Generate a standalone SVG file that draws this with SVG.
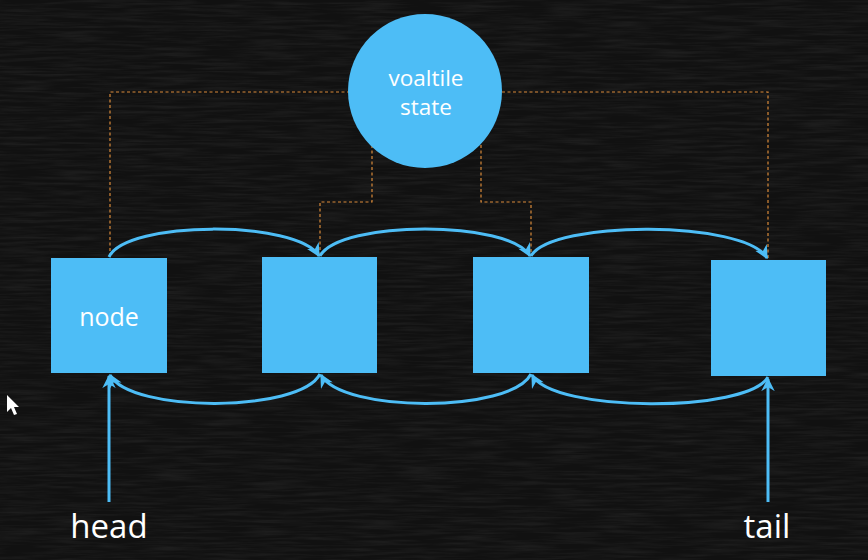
<svg xmlns="http://www.w3.org/2000/svg" width="868" height="560" viewBox="0 0 868 560">
<style>
.node{fill:#4dbdf6;}
.lbl{font-family:"Open Sans","Noto Sans",sans-serif;fill:#ffffff;text-anchor:middle;}
.arc{fill:none;stroke:#4dbdf6;stroke-width:3;}
.dash{fill:none;stroke:#d98a3a;stroke-width:1.2;stroke-dasharray:3 2.5;}
</style>
<defs>
<marker id="ah" viewBox="0 0 10 10" refX="9" refY="5" markerWidth="4.5" markerHeight="4.5" orient="auto" markerUnits="strokeWidth">
<path d="M0,0 L10,5 L0,10 L3,5 z" fill="#4dbdf6"/>
</marker>
<filter id="chalk" x="0" y="0" width="100%" height="100%">
<feTurbulence type="fractalNoise" baseFrequency="0.02 0.35" numOctaves="3" seed="4" result="n"/>
<feColorMatrix in="n" type="matrix" values="0 0 0 0 1  0 0 0 0 1  0 0 0 0 1  0 0 0 0.5 -0.18" result="c"/>
<feComposite in="c" in2="SourceGraphic" operator="in"/>
</filter>
</defs>
<rect x="0" y="0" width="868" height="560" fill="#111111"/>
<rect x="0" y="0" width="868" height="560" fill="#111111" filter="url(#chalk)" opacity="0.22"/>

<g id="connectors">
<path class="dash" d="M350,92 H110 V256"/>
<path class="dash" d="M372,145 V202 H320 V255"/>
<path class="dash" d="M481,145 V202 H531 V255"/>
<path class="dash" d="M502,92 H768 V258"/>
<path class="arc" d="M109,257 C126,220 298,220 319,256" marker-end="url(#ah)"/>
<path class="arc" d="M320,256 C340,220 510,220 530,256" marker-end="url(#ah)"/>
<path class="arc" d="M531,256 C552,220 745,220 767,258" marker-end="url(#ah)"/>
<path class="arc" d="M320,374 C300,413 130,413 110,375" marker-end="url(#ah)"/>
<path class="arc" d="M531,374 C511,413 342,413 321,375" marker-end="url(#ah)"/>
<path class="arc" d="M768,377 C748,413 553,413 532,375" marker-end="url(#ah)"/>
<path class="arc" d="M109,502 V376" marker-end="url(#ah)"/>
<path class="arc" d="M768,502 V379" marker-end="url(#ah)"/>
</g>

<g id="state">
<circle class="node" cx="425" cy="91" r="77"/>
<text class="lbl" x="426" y="86" font-size="22.5">voaltile</text>
<text class="lbl" x="426" y="115" font-size="22.5">state</text>
</g>
<g id="node1">
<rect class="node" x="51" y="258" width="116" height="115"/>
<text class="lbl" x="109" y="326" font-size="25">node</text>
</g>
<g id="node2">
<rect class="node" x="262" y="257" width="115" height="116"/>
</g>
<g id="node3">
<rect class="node" x="473" y="257" width="116" height="116"/>
</g>
<g id="node4">
<rect class="node" x="711" y="260" width="115" height="116"/>
</g>
<g id="head">
<text class="lbl" x="109" y="538" font-size="33">head</text>
</g>
<g id="tail">
<text class="lbl" x="767" y="538" font-size="33">tail</text>
</g>
<polygon points="7,395 7,412 11,408 14,415 17,414 14,407 19,407" fill="#ffffff"/>
</svg>
